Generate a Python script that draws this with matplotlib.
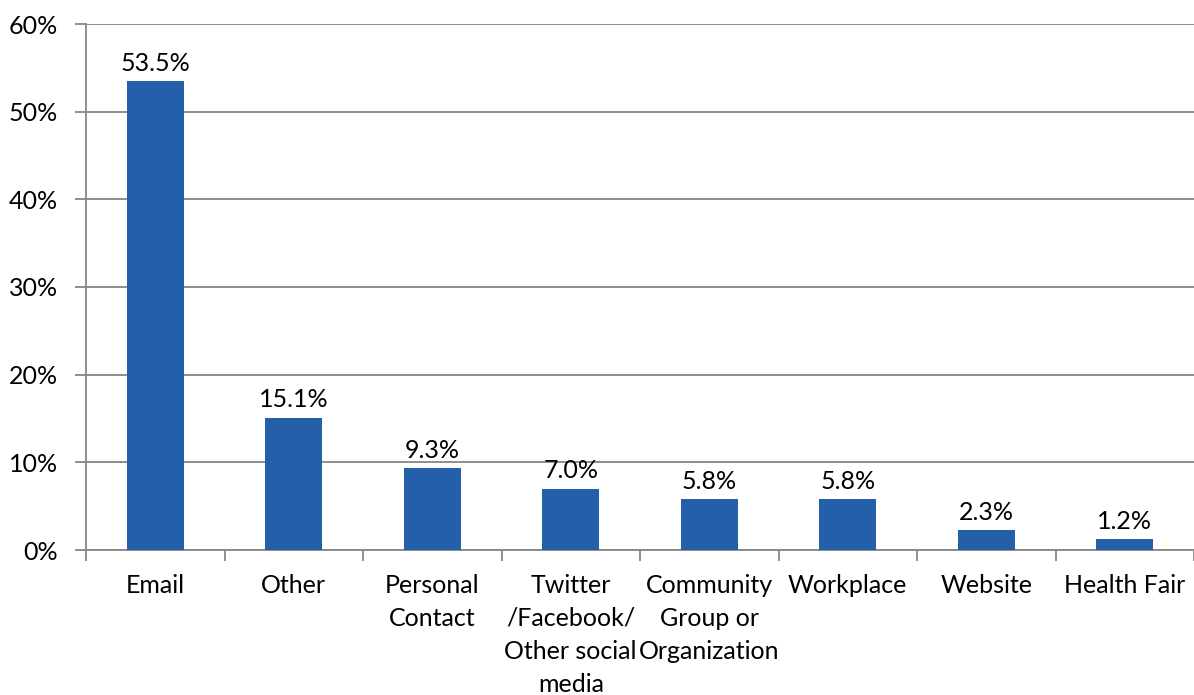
import matplotlib
matplotlib.use("Agg")
import matplotlib.pyplot as plt
from matplotlib.ticker import FixedLocator, PercentFormatter

categories = ["Email", "Other", "Personal\nContact", "Twitter\n/Facebook/\nOther social\nmedia",
              "Community\nGroup or\nOrganization", "Workplace", "Website", "Health Fair"]
values = [53.5, 15.1, 9.3, 7.0, 5.8, 5.8, 2.3, 1.2]
yticks = [0, 10, 20, 30, 40, 50, 60]

plt.rcParams['font.family'] = ['Lato', 'DejaVu Sans']
fig = plt.figure(figsize=(11.94, 6.95), dpi=100)
ax = fig.add_axes([86/1194, 1-550/695, 1-86/1194, (550-24)/695])

grid_c = "#868686"
fs = 18
x = list(range(len(categories)))
bars = ax.bar(x, values, width=0.41, color="#2460AA", zorder=3)
for xi, v in zip(x, values):
    ax.text(xi, v + 0.7, f"{v:.1f}%", ha="center", va="bottom", fontsize=fs, color="black")

ax.set_xlim(-0.5, len(categories) - 0.5)
ax.set_ylim(0, 60)
ax.set_yticks(yticks)
ax.yaxis.set_major_formatter(PercentFormatter(decimals=0))
ax.yaxis.grid(True, color=grid_c, linewidth=1.3, zorder=0)
ax.set_xticks(x)
ax.set_xticklabels(categories, fontsize=fs, linespacing=1.53)
ax.xaxis.set_minor_locator(FixedLocator([i - 0.5 for i in range(len(categories) + 1)]))
ax.tick_params(axis="x", which="major", length=0, pad=17)
ax.tick_params(axis="x", which="minor", length=8, color=grid_c, width=1.3)
ax.tick_params(axis="y", length=8, color=grid_c, width=1.3, labelsize=fs, pad=12)
for s in ["top", "right"]:
    ax.spines[s].set_visible(False)
for s in ["left", "bottom"]:
    ax.spines[s].set_color(grid_c)
    ax.spines[s].set_linewidth(1.3)

fig.savefig("out.png", dpi=100)
